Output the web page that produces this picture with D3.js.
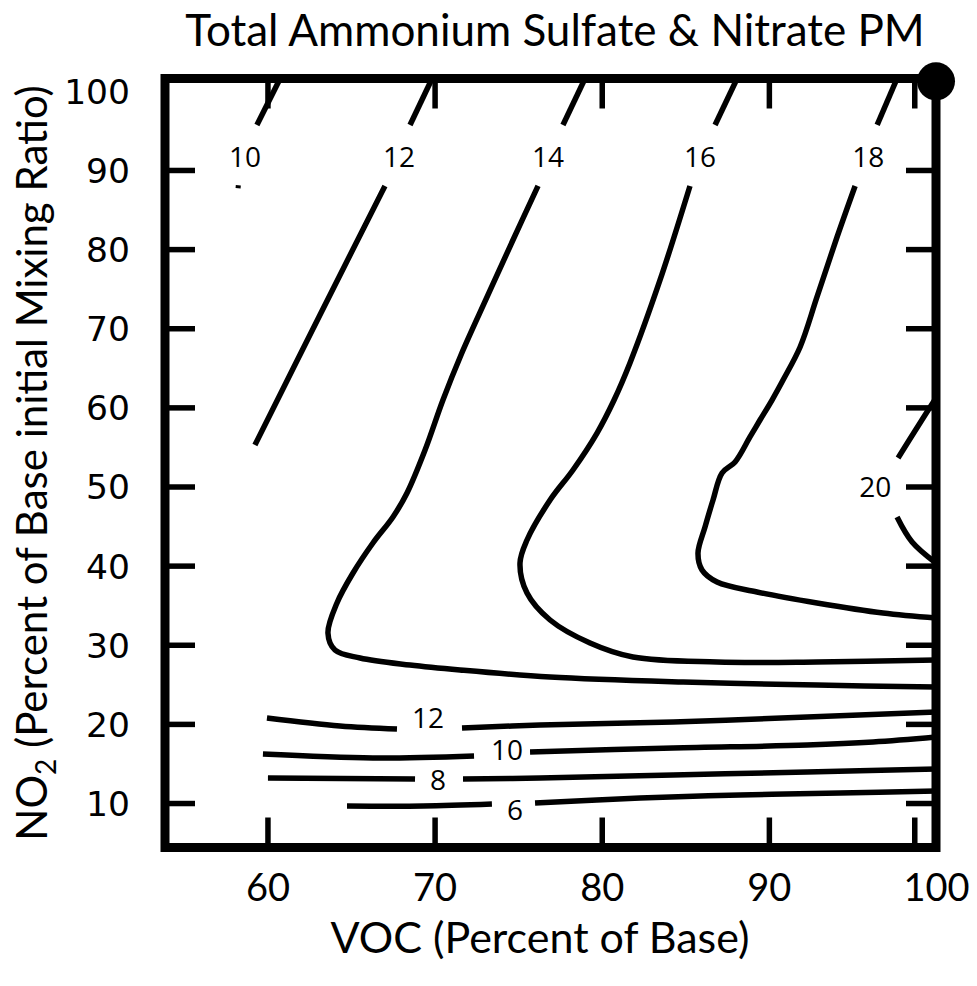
<!DOCTYPE html>
<html><head><meta charset="utf-8">
<script src="https://cdn.jsdelivr.net/npm/d3@7"></script>
<style>body{margin:0;background:#fff}</style>
</head><body>
<svg id="chart" width="977" height="986"></svg>
<script>
// ---- text ----
const title = "Total Ammonium Sulfate & Nitrate PM";
const xTitle = "VOC (Percent of Base)";
const yTitleHead = "NO";
const yTitleSub = "2";
const yTitleTail = " (Percent of Base initial Mixing Ratio)";

// ---- axes ----
const xDomain = [53.87, 100];
const yDomain = [4.38, 101.56];
const xTickLabels = [60, 70, 80, 90, 100];
const xTickMarks = [60, 70, 80, 90, 98.7];
const yTickLabels = [10, 20, 30, 40, 50, 60, 70, 80, 90, 100];
const yTickMarks = [10, 20, 30, 40, 50, 60, 70, 80, 90];

// ---- contour lines: [VOC, NO2] points, each level split into segments around its label ----
const contour10 = [
  [[60.76, 101.56], [59.37, 95.69]],
  [[58.1, 87.9], [58.4, 87.85]]
];
const contour12Upper = [
  [[69.85, 101.56], [68.53, 95.69]],
  [[67.03, 87.98], [63.14, 71.68], [59.25, 55.24]]
];
const contour14 = [
  [[79.0, 101.56], [77.68, 95.69]],
  [[76.19, 87.98], [74.69, 81.15], [73.14, 73.95], [71.58, 66.62], [70.50, 60.93], [69.43, 54.61], [68.35, 49.18], [67.51, 46.15], [66.31, 42.86], [65.12, 39.07], [64.16, 35.28], [63.62, 31.48], [64.04, 29.34], [65.54, 28.33], [68.53, 27.44], [71.52, 26.81], [76.91, 25.92], [84.87, 25.29], [92.88, 24.91], [100, 24.66]]
];
const contour16 = [
  [[88.1, 101.56], [86.78, 95.69]],
  [[85.28, 87.98], [83.49, 76.10], [81.69, 65.61], [80.74, 60.93], [79.72, 56.76], [78.28, 52.09], [76.91, 48.29], [75.53, 43.24], [75.11, 40.33], [75.53, 36.54], [76.91, 33.13], [79.30, 30.22], [81.87, 28.45], [86.90, 27.82], [92.88, 27.82], [100, 28.07]]
];
const contour18 = [
  [[97.67, 101.56], [96.48, 95.69]],
  [[95.16, 87.98], [94.08, 81.53], [92.88, 73.95], [91.87, 67.63], [90.85, 63.46], [90.19, 60.93], [89.47, 58.40], [88.87, 56.26], [87.98, 53.10], [87.20, 51.71], [86.66, 48.29], [86.18, 44.88], [85.76, 41.60], [86.00, 39.45], [86.90, 37.93], [89.29, 36.67], [92.88, 35.28], [96.83, 34.01], [100, 33.38]]
];
const contour20 = [
  [[100, 61.19], [98.93, 57.65], [97.73, 53.60]],
  [[97.67, 46.15], [98.57, 42.99], [100, 40.33]]
];
const contour12Lower = [
  [[59.97, 20.74], [64.34, 19.73], [67.75, 19.35]],
  [[71.64, 19.48], [76.31, 19.86], [84.27, 20.24], [92.29, 20.87], [100, 21.50]]
];
const contour10Lower = [
  [[59.73, 16.19], [66.31, 15.69], [72.36, 15.94]],
  [[75.71, 16.45], [84.27, 16.95], [92.29, 17.33], [96.24, 17.71], [100, 18.34]]
];
const contour8Lower = [
  [[60.03, 13.16], [68.83, 13.03]],
  [[71.70, 13.03], [76.31, 13.16], [84.27, 13.54], [92.29, 13.92], [100, 14.30]]
];
const contour6Lower = [
  [[64.76, 9.62], [69.31, 9.62], [73.43, 9.87]],
  [[76.01, 10.0], [82.29, 10.63], [88.28, 11.01], [94.26, 11.26], [100, 11.52]]
];

// ---- contour labels ----
const labelText = ["10", "12", "14", "16", "18", "20", "12", "10", "8", "6"];
const labelVoc  = [58.65, 67.87, 76.79, 85.88, 95.94, 96.36, 69.61, 74.33, 70.20, 74.81];
const labelNo2  = [91.64, 91.64, 91.64, 91.64, 91.64, 49.94, 20.74, 16.70, 12.91, 9.12];

// ---- base case marker ----
const basePoint = [100, 101.2];

// ================= drawing =================
const svg = d3.select("#chart");
const pLeft = 165, pRight = 936, pTop = 78.5, pBottom = 847.5;
const x = d3.scaleLinear().domain(xDomain).range([pLeft, pRight]);
const y = d3.scaleLinear().domain(yDomain).range([pBottom, pTop]);

const sansFont = "Lato, 'Open Sans', sans-serif";

svg.append("defs").append("clipPath").attr("id", "plotclip")
  .append("rect").attr("x", pLeft).attr("y", pTop).attr("width", pRight - pLeft).attr("height", pBottom - pTop);

const line = d3.line().x(d => x(d[0])).y(d => y(d[1])).curve(d3.curveCatmullRom.alpha(0.5));

const allContours = [contour10, contour12Upper, contour14, contour16, contour18, contour20,
                     contour12Lower, contour10Lower, contour8Lower, contour6Lower];
const g = svg.append("g").attr("clip-path", "url(#plotclip)");
allContours.forEach((segs, ci) => {
  segs.forEach((seg, si) => {
    const tiny = (ci === 0 && si === 1);
    g.append("path").attr("d", line(seg))
      .attr("fill", "none").attr("stroke", "#000")
      .attr("stroke-width", tiny ? 3 : 5.5)
      .attr("stroke-linecap", "butt").attr("stroke-linejoin", "round");
  });
});

// contour labels
labelText.forEach((t, i) => {
  svg.append("text").attr("x", x(labelVoc[i])).attr("y", y(labelNo2[i]))
    .attr("dy", "0.36em").attr("text-anchor", "middle")
    .attr("font-family", "'Open Sans', sans-serif").attr("font-size", 28)
    .attr("fill", "#000").text(t);
});

// tick marks (inside, mirrored on all four sides)
const tickLen = 30;
const tickStyle = sel => sel.call(s => s.select(".domain").remove())
  .call(s => s.selectAll(".tick line").attr("stroke", "#000").attr("stroke-width", 5.5))
  .call(s => s.selectAll(".tick text").remove());

svg.append("g").attr("transform", `translate(0,${pBottom})`)
  .call(d3.axisBottom(x).tickValues(xTickMarks).tickSize(-tickLen)).call(tickStyle);
svg.append("g").attr("transform", `translate(0,${pTop})`)
  .call(d3.axisTop(x).tickValues(xTickMarks).tickSize(-tickLen)).call(tickStyle);
svg.append("g").attr("transform", `translate(${pLeft},0)`)
  .call(d3.axisLeft(y).tickValues(yTickMarks).tickSize(-tickLen)).call(tickStyle);
svg.append("g").attr("transform", `translate(${pRight},0)`)
  .call(d3.axisRight(y).tickValues(yTickMarks).tickSize(-tickLen)).call(tickStyle);

// tick labels
const xLab = svg.append("g").attr("transform", `translate(0,${pBottom})`)
  .call(d3.axisBottom(x).tickValues(xTickLabels).tickSize(0).tickPadding(0));
xLab.select(".domain").remove();
xLab.selectAll(".tick text").attr("y", 53).attr("dy", 0)
  .attr("font-family", sansFont).attr("font-size", 38).attr("fill", "#000");

const yLab = svg.append("g").attr("transform", `translate(${pLeft},0)`)
  .call(d3.axisLeft(y).tickValues(yTickLabels).tickSize(0).tickPadding(0));
yLab.select(".domain").remove();
yLab.selectAll(".tick text").attr("x", -35).attr("dy", "0.36em")
  .attr("font-family", "'DejaVu Sans', sans-serif").attr("font-size", 34.5).attr("fill", "#000");

// frame
svg.append("rect").attr("x", pLeft).attr("y", pTop).attr("width", pRight - pLeft).attr("height", pBottom - pTop)
  .attr("fill", "none").attr("stroke", "#000").attr("stroke-width", 9);

// base point
svg.append("circle").attr("cx", x(basePoint[0])).attr("cy", y(basePoint[1])).attr("r", 19).attr("fill", "#000");

// titles
svg.append("text").attr("x", 555).attr("y", 46).attr("text-anchor", "middle")
  .attr("font-family", sansFont).attr("font-size", 44).attr("fill", "#000").text(title);
svg.append("text").attr("x", 540).attr("y", 953).attr("text-anchor", "middle")
  .attr("font-family", sansFont).attr("font-size", 43).attr("fill", "#000").text(xTitle);
const yt = svg.append("text").attr("transform", `translate(47,${(pTop + pBottom) / 2}) rotate(-90)`)
  .attr("text-anchor", "middle").attr("font-family", sansFont).attr("font-size", 42).attr("fill", "#000");
yt.append("tspan").text(yTitleHead);
yt.append("tspan").attr("font-size", 28).attr("dy", 9).text(yTitleSub);
yt.append("tspan").attr("dy", -9).text(yTitleTail);
</script>
</body></html>
